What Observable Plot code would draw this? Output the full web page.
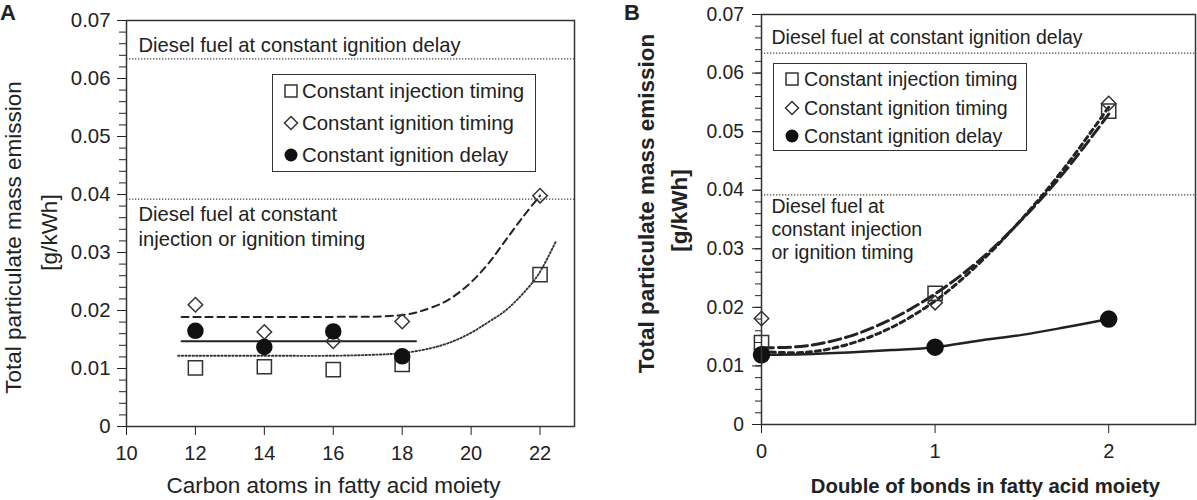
<!DOCTYPE html>
<html><head><meta charset="utf-8">
<script src="https://cdn.jsdelivr.net/npm/d3@7"></script>
<script src="https://cdn.jsdelivr.net/npm/@observablehq/plot@0.6"></script>
<style>
body{margin:0;background:#fff;}
#wrap{position:relative;width:1197px;height:500px;overflow:hidden;font-family:"Liberation Sans",Arial,sans-serif;color:#222;background:#fff;}
.panel{position:absolute;top:0;}
.letter{position:absolute;font-weight:bold;font-size:22px;line-height:22px;}
.legend{position:absolute;border:1.5px solid #333;box-sizing:border-box;}
.row{position:absolute;line-height:20px;white-space:nowrap;}
.sym{position:absolute;overflow:visible;}
</style></head><body><div id="wrap"></div>
<script>
// ---------- Panel A data ----------
const carbonAtoms = [12, 14, 16, 18, 22];
const pmA_constInjection = [0.0101, 0.0103, 0.0098, 0.0107, 0.0262];
const pmA_constIgnitionTiming = [0.0210, 0.0163, 0.0147, 0.0181, 0.0398];
const carbonAtomsDelay = [12, 14, 16, 18];
const pmA_constIgnitionDelay = [0.0165, 0.0137, 0.0164, 0.0121];
// trend lines
const fitA_timing_x = [11.6, 14, 16, 17.5, 18.2, 18.6, 19.3, 19.95, 20.5, 21.0, 21.5, 22.0];
const fitA_timing_y = [0.0189, 0.0189, 0.0189, 0.0190, 0.0194, 0.0200, 0.0217, 0.0246, 0.0281, 0.0321, 0.0361, 0.0398];
const fitA_delay_x = [11.6, 18.4];
const fitA_delay_y = [0.0147, 0.0147];
const fitA_injection_x = [11.5, 14, 16, 17.3, 17.9, 18.6, 19.3, 19.95, 20.5, 21.0, 21.5, 21.95, 22.45];
const fitA_injection_y = [0.0122, 0.0122, 0.0122, 0.0124, 0.0126, 0.0132, 0.0143, 0.0160, 0.0180, 0.0200, 0.0229, 0.0262, 0.0318];

// ---------- Panel B data ----------
const doubleBonds = [0, 1, 2];
const pmB_constInjection = [0.0140, 0.0224, 0.0535];
const pmB_constIgnitionTiming = [0.0181, 0.0208, 0.0548];
const pmB_constIgnitionDelay = [0.0119, 0.0132, 0.0180];
const fitB_x = [0, 0.25, 0.5, 0.75, 1, 1.25, 1.5, 1.75, 2];
const fitB_injection_y = [0.0131, 0.0134, 0.0150, 0.0180, 0.0223, 0.0279, 0.0350, 0.0433, 0.0530];
const fitB_timing_y = [0.0125, 0.0123, 0.0137, 0.0166, 0.0211, 0.0274, 0.0351, 0.0440, 0.0542];
const fitB_delay_y = [0.0119, 0.0120, 0.0123, 0.0127, 0.0132, 0.0143, 0.0153, 0.0166, 0.0180];

// diesel reference levels
const dieselIgnitionDelay = 0.0634;
const dieselTiming = 0.0392;

// ---------- ticks & labels ----------
const yTicks = [0, 0.01, 0.02, 0.03, 0.04, 0.05, 0.06, 0.07];
const yTickLabels = ["0", "0.01", "0.02", "0.03", "0.04", "0.05", "0.06", "0.07"];
const yMinorTicks = d3.range(0, 0.0701, 0.002);
const xTicksA = [10, 12, 14, 16, 18, 20, 22];
const xTicksB = [0, 1, 2];
const yLabelLines = ["Total particulate mass emission", "[g/kWh]"];
const xLabelA = "Carbon atoms in fatty acid moiety";
const xLabelB = "Double of bonds in fatty acid moiety";
const noteDelay = "Diesel fuel at constant ignition delay";
const noteTimingA = "Diesel fuel at constant\ninjection or ignition timing";
const noteTimingB = "Diesel fuel at\nconstant injection\nor ignition timing";
const seriesNames = ["Constant injection timing", "Constant ignition timing", "Constant ignition delay"];

const FONT = "'Liberation Sans', Arial, sans-serif";
const INK = "#222";
const zip = (xs, ys) => xs.map((x, i) => ({x, y: ys[i]}));
const fmtY = d => yTickLabels[yTicks.findIndex(t => Math.abs(t - d) < 1e-9)] ?? "";

function commonMarks(o) {
  return [
    Plot.axisY({ticks: yMinorTicks, tickSize: o.minor, tickFormat: () => "", label: null, stroke: INK}),
    Plot.axisY({ticks: yTicks, tickSize: 9, tickPadding: o.yPad, tickFormat: fmtY, label: null, stroke: INK, fill: INK, fontSize: o.yFont}),
    Plot.axisX({ticks: o.xTicks, tickSize: 9, tickPadding: 10, tickFormat: d => String(d), label: null, stroke: INK, fill: INK, fontSize: 20}),
    Plot.ruleY([dieselIgnitionDelay, dieselTiming], {stroke: "#444", strokeWidth: 1.3, strokeDasharray: "1.3,1.7"})
  ];
}

// ---------- Panel A ----------
const plotA = Plot.plot({
  width: 600, height: 500,
  marginLeft: 126, marginRight: 26, marginTop: 20, marginBottom: 74,
  style: {fontFamily: FONT, fontSize: "20px", color: INK, background: "transparent", overflow: "visible"},
  x: {domain: [10, 23]},
  y: {domain: [0, 0.07]},
  marks: [
    ...commonMarks({xTicks: xTicksA, yPad: 7, minor: 7, yFont: 20.4}),
    Plot.text([noteDelay], {x: () => 10, y: () => dieselIgnitionDelay, dx: 12, dy: -7, textAnchor: "start", lineAnchor: "bottom", fontSize: 20.2, fill: INK}),
    Plot.text([noteTimingA], {x: () => 10, y: () => dieselTiming, dx: 12, dy: 4, textAnchor: "start", lineAnchor: "top", lineHeight: 1.25, fontSize: 20.2, fill: INK}),
    Plot.line(zip(fitA_injection_x, fitA_injection_y), {x: "x", y: "y", curve: "catmull-rom", stroke: "#333", strokeWidth: 1.9, strokeDasharray: "1.4,2.2"}),
    Plot.line(zip(fitA_timing_x, fitA_timing_y), {x: "x", y: "y", curve: "catmull-rom", stroke: INK, strokeWidth: 2, strokeDasharray: "7,5"}),
    Plot.line(zip(fitA_delay_x, fitA_delay_y), {x: "x", y: "y", stroke: INK, strokeWidth: 2}),
    Plot.dot(zip(carbonAtoms, pmA_constInjection), {x: "x", y: "y", symbol: "square", r: 8, stroke: "#333", strokeWidth: 1.5, fill: "none"}),
    Plot.dot(zip(carbonAtoms, pmA_constIgnitionTiming), {x: "x", y: "y", symbol: "diamond2", r: 6.5, stroke: "#333", strokeWidth: 1.5, fill: "none"}),
    Plot.dot(zip(carbonAtomsDelay, pmA_constIgnitionDelay), {x: "x", y: "y", symbol: "circle", r: 7.5, fill: "#111", stroke: "#111"}),
    Plot.frame({stroke: "#333", strokeWidth: 1.5}),
    Plot.text([yLabelLines[0]], {frameAnchor: "left", rotate: -90, textAnchor: "middle", lineAnchor: "bottom", dx: -106, dy: 14, fontSize: 22.5, fill: INK}),
    Plot.text([yLabelLines[1]], {frameAnchor: "left", rotate: -90, textAnchor: "middle", lineAnchor: "bottom", dx: -70, dy: 9, fontSize: 22.5, fill: INK}),
    Plot.text([xLabelA], {frameAnchor: "bottom", dx: -17, dy: 66, lineAnchor: "bottom", fontSize: 22.5, fill: INK})
  ]
});

// ---------- Panel B ----------
const plotB = Plot.plot({
  width: 597, height: 500,
  marginLeft: 161, marginRight: 2, marginTop: 14, marginBottom: 76,
  style: {fontFamily: FONT, fontSize: "20px", color: INK, background: "transparent", overflow: "visible"},
  x: {domain: [0, 2.5]},
  y: {domain: [0, 0.07]},
  marks: [
    ...commonMarks({xTicks: xTicksB, yPad: 8.5, minor: 6, yFont: 19.3}),
    Plot.text([noteDelay], {x: () => 0, y: () => dieselIgnitionDelay, dx: 10, dy: -9, textAnchor: "start", lineAnchor: "bottom", fontSize: 19.5, fill: INK}),
    Plot.text([noteTimingB], {x: () => 0, y: () => dieselTiming, dx: 10, dy: 2, textAnchor: "start", lineAnchor: "top", lineHeight: 1.18, fontSize: 19.5, fill: INK}),
    Plot.line(zip(fitB_x, fitB_delay_y), {x: "x", y: "y", curve: "catmull-rom", stroke: INK, strokeWidth: 2.5}),
    Plot.line(zip(fitB_x, fitB_timing_y), {x: "x", y: "y", curve: "catmull-rom", stroke: INK, strokeWidth: 3, strokeDasharray: "5,4"}),
    Plot.line(zip(fitB_x, fitB_injection_y), {x: "x", y: "y", curve: "catmull-rom", stroke: INK, strokeWidth: 3, strokeDasharray: "12,5"}),
    Plot.dot(zip(doubleBonds, pmB_constInjection), {x: "x", y: "y", symbol: "square", r: 8, stroke: "#333", strokeWidth: 1.5, fill: "none"}),
    Plot.dot(zip(doubleBonds, pmB_constIgnitionTiming), {x: "x", y: "y", symbol: "diamond2", r: 6.5, stroke: "#333", strokeWidth: 1.5, fill: "none"}),
    Plot.dot(zip(doubleBonds, pmB_constIgnitionDelay), {x: "x", y: "y", symbol: "circle", r: 8, fill: "#111", stroke: "#111"}),
    Plot.frame({stroke: "#333", strokeWidth: 1.5}),
    Plot.text([yLabelLines[0]], {frameAnchor: "left", rotate: -90, textAnchor: "middle", lineAnchor: "bottom", dx: -108, dy: -16, fontSize: 22.5, fontWeight: "bold", fill: INK}),
    Plot.text([yLabelLines[1]], {frameAnchor: "left", rotate: -90, textAnchor: "middle", lineAnchor: "bottom", dx: -75, dy: -9, fontSize: 22.5, fontWeight: "bold", fill: INK}),
    Plot.text([xLabelB], {frameAnchor: "bottom", dx: 7, dy: 68, lineAnchor: "bottom", fontWeight: "bold", fontSize: 20.3, fill: INK})
  ]
});

// ---------- assemble ----------
const wrap = document.getElementById("wrap");
plotA.classList.add("panel"); plotA.style.left = "0px";
plotB.classList.add("panel"); plotB.style.left = "600px";
wrap.appendChild(plotA);
wrap.appendChild(plotB);

function addLetter(t, left) {
  const d = document.createElement("div");
  d.className = "letter"; d.textContent = t;
  d.style.left = left + "px"; d.style.top = "1.5px";
  wrap.appendChild(d);
}
addLetter("A", 0);
addLetter("B", 624);

function symbolSvg(kind) {
  if (kind === 0) return `<rect x="-6" y="-6" width="12" height="12" fill="none" stroke="#333" stroke-width="1.5"/>`;
  if (kind === 1) return `<path d="M0,-6.5L6.5,0L0,6.5L-6.5,0Z" fill="none" stroke="#333" stroke-width="1.5"/>`;
  return `<circle r="6.5" fill="#111"/>`;
}
function addLegend(box, symX, textX, baselines, fs) {
  const b = document.createElement("div");
  b.className = "legend";
  Object.assign(b.style, {left: box[0] + "px", top: box[1] + "px", width: box[2] + "px", height: box[3] + "px"});
  wrap.appendChild(b);
  seriesNames.forEach((name, i) => {
    const s = document.createElementNS("http://www.w3.org/2000/svg", "svg");
    s.setAttribute("class", "sym");
    s.setAttribute("width", 20); s.setAttribute("height", 20);
    s.setAttribute("viewBox", "-10 -10 20 20");
    s.style.left = (symX - 10) + "px"; s.style.top = (baselines[i] - 7 - 10) + "px";
    s.innerHTML = symbolSvg(i);
    wrap.appendChild(s);
    const r = document.createElement("div");
    r.className = "row"; r.textContent = name;
    r.style.fontSize = fs + "px";
    r.style.left = textX + "px"; r.style.top = (baselines[i] - 17) + "px";
    wrap.appendChild(r);
  });
}
addLegend([272, 74, 264, 98], 291, 302, [98, 130, 162], 20.4);
addLegend([773, 63, 254, 88], 792, 804, [86, 115, 143], 19.6);
</script>
</body></html>
